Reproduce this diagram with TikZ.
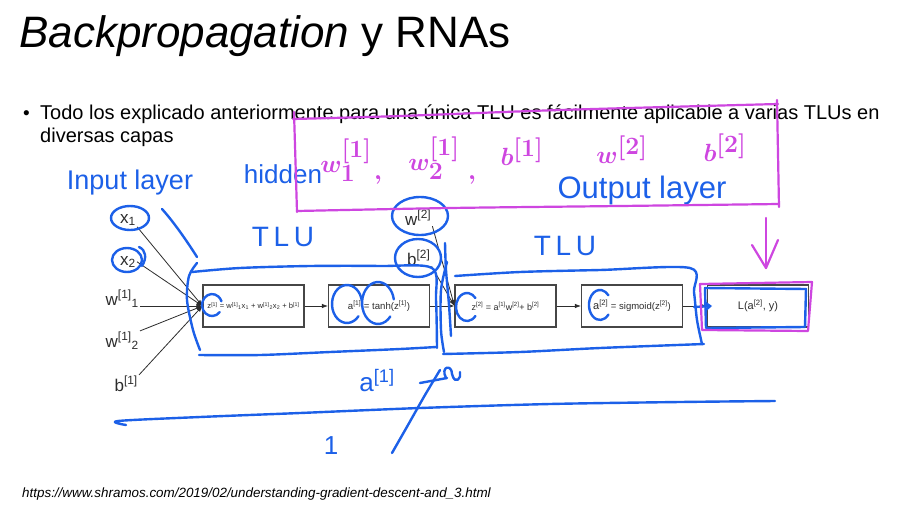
\documentclass[tikz,border=0pt]{standalone}
\usepackage{fontspec}
\setmainfont{Liberation Sans}
\usetikzlibrary{arrows.meta}
\definecolor{penblue}{RGB}{28,96,232}
\definecolor{penmag}{RGB}{206,70,224}
\definecolor{boxgray}{RGB}{70,70,70}
\definecolor{inkgray}{RGB}{45,45,45}
\newcommand\hsup[1]{\textsuperscript{#1}}
\newcommand\hsub[1]{\textsubscript{#1}}
\newcommand\setfs[1]{\fontsize{#1}{#1}\selectfont}
\tikzset{
  tlubox/.style={draw=boxgray, line width=1.1pt, fill=white, minimum width=101pt,
                 minimum height=42pt, inner sep=0pt, text=inkgray},
  lbl/.style={font=\setfs{17}, inner sep=1pt, text=inkgray},
  conn/.style={draw=inkgray, line width=0.8pt},
  arr/.style={conn, -{Latex[length=6pt,width=4.5pt]}},
  pen/.style={draw=penblue, line width=2.4pt, line cap=round, line join=round},
  mpen/.style={draw=penmag, line width=2.2pt, line cap=round, line join=round},
  hand/.style={text=penblue, inner sep=0pt},
  mhand/.style={text=penmag, inner sep=0pt, font=\setfs{44}\boldmath},
}
\begin{document}
\begin{tikzpicture}[x=1pt,y=-1pt]
\fill[white] (0,0) rectangle (907,506);
\useasboundingbox (0,0) rectangle (907,506);

% heading and bullet text
\node[anchor=base west, inner sep=0, font=\setfs{44}] (title) at (19,47) {\textit{Backpropagation} y RNAs};
\node[anchor=base west, inner sep=0, font=\setfs{19}] (dot) at (23,119) {•};
\node[anchor=base west, inner sep=0, font=\setfs{20}] (line1) at (40,119)
  {Todo los explicado anteriormente para una única TLU es fácilmente aplicable a varias TLUs en};
\node[anchor=base west, inner sep=0, font=\setfs{20}] (line2) at (40,142) {diversas capas};
\node[anchor=base west, inner sep=0, font=\setfs{13.4}\itshape] (src) at (22,497)
  {https://www.shramos.com/2019/02/understanding-gradient-descent-and\_3.html};

% input labels
\node[lbl, anchor=base west] (x1) at (119,223) {x\hsub{1}};
\node[lbl, anchor=base west] (x2) at (119,265) {x\hsub{2}};
\node[lbl, anchor=base east] (w11) at (140,305) {w\hsup{[1]}\hsub{1}};
\node[lbl, anchor=base east] (w12) at (140,347) {w\hsup{[1]}\hsub{2}};
\node[lbl, anchor=base east] (b1) at (139,391) {b\hsup{[1]}};
\node[lbl, anchor=base west] (w2) at (404,225) {w\hsup{[2]}};
\node[lbl, anchor=base west] (b2) at (406,265) {b\hsup{[2]}};

% the chain of units
\node[tlubox, font=\setfs{7.6}] (box1) at (253.5,306) {z\hsup{[1]} = w\hsup{[1]}\hsub{1}x\hsub{1} + w\hsup{[1]}\hsub{2}x\hsub{2} + b\hsup{[1]}};
\node[tlubox, font=\setfs{9.6}] (box2) at (379,306) {a\hsup{[1]} = tanh(z\hsup{[1]})};
\node[tlubox, font=\setfs{9}] (box3) at (505.5,306) {z\hsup{[2]} = a\hsup{[1]}w\hsup{[2]}+ b\hsup{[2]}};
\node[tlubox, font=\setfs{9.5}] (box4) at (632,306) {{\setfs{11}a\hsup{[2]}} = sigmoid(z\hsup{[2]})};
\node[tlubox, font=\setfs{11}] (box5) at (758,306) {L(a\hsup{[2]}, y)};

\draw[arr] (x1.south east) -- (box1.west);
\draw[arr] (x2.east) -- (box1.west);
\draw[arr] (w11.east |- box1.west) -- (box1.west);
\draw[arr] (w12.north east) -- (box1.west);
\draw[arr] (b1.north east) -- (box1.west);
\draw[arr] (w2.south east) -- (box3.west);
\draw[arr] (b2.south east) -- (box3.west);
\draw[arr] (box1) -- (box2);
\draw[arr] (box2) -- (box3);
\draw[arr] (box3) -- (box4);
\draw[arr] (box4) -- (box5);

% ---- blue pen notes ----
\node[hand, font=\setfs{27}] (inlayer) at (130,183) {Input layer};
\node[hand, font=\setfs{26}] (hidden) at (283,174) {hidden};
\node[hand, font=\setfs{28}] (tlu1) at (283,237) {T\,L\,U};
\node[hand, font=\setfs{28}] (tlu2) at (565,246) {T\,L\,U};
\node[hand, font=\setfs{31}] (outlayer) at (642,190) {Output layer};
\node[hand, font=\setfs{26}] (acap) at (377,381) {a\hsup{[1]}};
\node[hand, font=\setfs{26}] (one) at (331,446) {1};

% rings round the inputs
\draw[pen] (130,218) ellipse [x radius=19, y radius=12];
\draw[pen] (127,260) ellipse [x radius=15, y radius=12];
\draw[pen] (139,247) .. controls (146,250) and (147,258) .. (142,266);
% stroke from the input note to the first unit
\draw[pen] (162,209) .. controls (172,220) and (185,238) .. (197,257);

% loop round the first unit
\draw[pen] plot[smooth] coordinates {(192,272) (240,268) (310,266) (380,266) (432,268) (436,300) (437,348)};
\draw[pen] plot[smooth] coordinates {(199,355) (260,355) (330,352) (400,349) (436,347)};
\draw[pen] plot[smooth] coordinates {(197,263) (189,276) (187,300) (193,330) (200,350)};
% loop round the second unit
\draw[pen] plot[smooth] coordinates {(455,276) (520,272) (600,270) (690,268) (694,292) (697,320) (702,344)};
\draw[pen] plot[smooth] coordinates {(443,354) (520,352) (600,348) (704,344)};
\draw[pen] plot[smooth] coordinates {(447,262) (441,290) (441,330) (444,352)};
\draw[pen] plot[smooth] coordinates {(445,243) (446,270) (449,305) (451,336)};

% rings round terms inside the units (start point = centre + radius at the start angle)
\draw[pen] (219.7,312.1) arc[start angle=40, end angle=340, x radius=10, y radius=11];
\draw[pen] (358.5,316.2) arc[start angle=40, end angle=350, x radius=15, y radius=19];
\draw[pen] (390.3,316.5) arc[start angle=40, end angle=350, x radius=16, y radius=21];
\draw[pen] (475.4,316.0) arc[start angle=40, end angle=320, x radius=11, y radius=14];
\draw[pen] (608.4,314.6) arc[start angle=40, end angle=320, x radius=11, y radius=15];
\draw[pen] (420,216) ellipse [x radius=28, y radius=19];
\draw[pen] (418,258) ellipse [x radius=23, y radius=19];

% box round the loss and the arrow into it
\draw[pen] (705,288) -- (806,289) -- (805,327) -- (706,328) -- cycle;
\draw[pen, -{Straight Barb[length=5pt,width=8pt]}] (694,307) -- (712,306);

% long line under the diagram
\draw[pen] plot[smooth] coordinates {(126,425) (118,421) (200,417) (300,413) (420,408) (550,404) (680,402) (775,401)};
% stroke rising from the lower note
\draw[pen] plot[smooth] coordinates {(392,453) (408,425) (425,395) (440,370)};
\draw[pen] (420,383) -- (447,378);
\draw[pen] (446,378) .. controls (440,366) and (452,364) .. (452,374) .. controls (455,386) and (462,378) .. (460,372);

% ---- magenta pen notes ----
\draw[mpen] (294,112) -- (297,212);
\draw[mpen] plot[smooth] coordinates {(293,119) (400,116) (560,110) (778,104)};
\draw[mpen] plot[smooth] coordinates {(297,211) (450,208) (620,206) (779,204)};
\draw[mpen] (777,100) -- (779,207);
\node[mhand] (mw1) at (346,160) {$w^{[1]}_{1}$};
\node[mhand] (mc1) at (378,180) {$,$};
\node[mhand] (mw2) at (434,158) {$w^{[1]}_{2}$};
\node[mhand] (mc2) at (472,180) {$,$};
\node[mhand] (mb1) at (522,152) {$b^{[1]}$};
\node[mhand] (mw3) at (622,150) {$w^{[2]}$};
\node[mhand] (mb2) at (725,148) {$b^{[2]}$};
% arrow pointing at the loss
\draw[mpen] (766,218) -- (766,268);
\draw[mpen] (752,245) -- (766,268) -- (778,240);
\draw[mpen] (700,284) -- (812,282) -- (808,331) -- (702,330) -- cycle;
\end{tikzpicture}
\end{document}
